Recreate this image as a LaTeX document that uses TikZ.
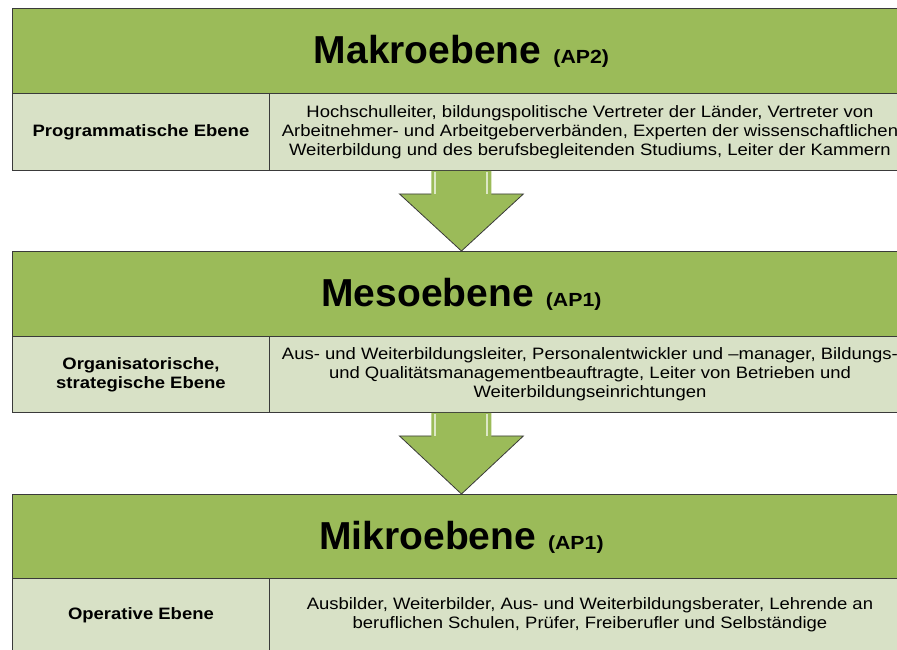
\documentclass[tikz,border=0pt]{standalone}
\usepackage{fontspec}
\setmainfont{Liberation Sans}
\newfontfamily\widefont[FakeStretch=1.12,Ligatures=TeX]{Liberation Sans}
\usetikzlibrary{calc}
\definecolor{hdgreen}{HTML}{9BBB59}
\definecolor{rowgreen}{HTML}{D8E1C6}
\definecolor{edgegray}{HTML}{3A3A3A}

\begin{document}
\begin{tikzpicture}[x=1pt,y=-1pt,
  head/.style={rectangle,draw=edgegray,fill=hdgreen,line width=0.9pt,
               minimum width=898pt,minimum height=85pt,inner sep=0pt,
               anchor=north west},
  lcell/.style={rectangle,draw=edgegray,fill=rowgreen,line width=0.9pt,
               minimum width=257pt,inner sep=0pt,anchor=north west,
               align=center,font=\widefont\fontsize{16.5}{19}\selectfont\bfseries},
  rcell/.style={rectangle,draw=edgegray,fill=rowgreen,line width=0.9pt,
               minimum width=641pt,inner sep=0pt,anchor=north west,
               align=center,font=\widefont\fontsize{16.5}{19}\selectfont},
  blockarr/.style={fill=hdgreen},
  arredge/.style={draw=edgegray,line width=0.8pt,line join=miter},
  shine/.style={draw=hdgreen!35!white,line width=2pt},
]
  \useasboundingbox (0,0) rectangle (897,649);

  % Makroebene
  \node[head] (h1) at (12,8) {\fontsize{39}{44}\selectfont\bfseries
    Makroebene\hspace{12pt}{\widefont\fontsize{19}{20}\selectfont\bfseries(AP2)}};
  \node[lcell,minimum height=77pt] (l1) at (12,93) {Programmatische Ebene};
  \node[rcell,minimum height=77pt] (r1) at (269,93)
    {Hochschulleiter, bildungspolitische Vertreter der L\"ander, Vertreter von\\
     Arbeitnehmer- und Arbeitgeberverb\"anden, Experten der wissenschaftlichen\\
     Weiterbildung und des berufsbegleitenden Studiums, Leiter der Kammern};

  % Mesoebene
  \node[head] (h2) at (12,251) {\fontsize{39}{44}\selectfont\bfseries
    Mesoebene\hspace{12pt}{\widefont\fontsize{19}{20}\selectfont\bfseries(AP1)}};
  \node[lcell,minimum height=76pt] (l2) at (12,336)
    {Organisatorische,\\strategische Ebene};
  \node[rcell,minimum height=76pt] (r2) at (269,336)
    {Aus- und Weiterbildungsleiter, Personalentwickler und –manager, Bildungs-\\
     und Qualit\"atsmanagementbeauftragte, Leiter von Betrieben und\\
     Weiterbildungseinrichtungen};

  % Mikroebene
  \node[head] (h3) at (12,494) {\fontsize{39}{44}\selectfont\bfseries
    Mikroebene\hspace{12pt}{\widefont\fontsize{19}{20}\selectfont\bfseries(AP1)}};
  \node[lcell,minimum height=73pt] (l3) at (12,578) {Operative Ebene};
  \node[rcell,minimum height=73pt] (r3) at (269,578)
    {Ausbilder, Weiterbilder, Aus- und Weiterbildungsberater, Lehrende an\\
     beruflichen Schulen, Pr\"ufer, Freiberufler und Selbst\"andige};

  % Block arrows between the levels
  \foreach \up/\down in {l1/h2,l2/h3}{
    \coordinate (a) at (h1.center |- \up.south);
    \coordinate (b) at (\down.north);
    \fill[blockarr] ($(a)+(-30,0)$) -- ($(a)+(-30,23)$) -- ($(a)+(-62,23)$)
      -- (b) -- ($(a)+(62,23)$) -- ($(a)+(30,23)$) -- ($(a)+(30,0)$) -- cycle;
    \draw[shine] ($(a)+(-26,1)$) -- ($(a)+(-26,23)$);
    \draw[shine] ($(a)+(26,1)$) -- ($(a)+(26,23)$);
    \draw[arredge] ($(a)+(-30,23)$) -- ($(a)+(-62,23)$) -- (b)
      -- ($(a)+(62,23)$) -- ($(a)+(30,23)$);
  }
\end{tikzpicture}
\end{document}
